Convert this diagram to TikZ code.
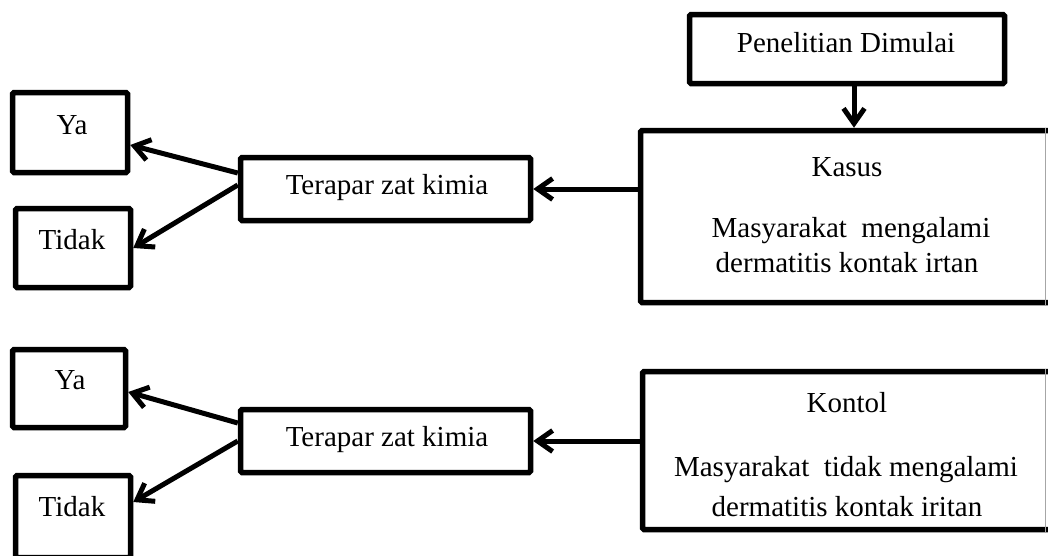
\documentclass[tikz,border=0pt]{standalone}
\usepackage{fontspec}
\setmainfont{Liberation Serif}
\usetikzlibrary{arrows.meta}
\begin{document}
\begin{tikzpicture}[x=1pt,y=-1pt,
  box/.style 2 args={draw, line width=5.5pt, rounded corners=1.5pt, inner sep=0pt,
    minimum width=#1pt, minimum height=#2pt},
  lbl/.style={font=\fontsize{29}{33}\selectfont, inner sep=0pt},
  arr/.style={line width=5pt, -{Straight Barb[length=15pt,width=21pt]}}
]
\useasboundingbox (0,0) rectangle (1048,555);
\clip (0,0) rectangle (1048,555);
% boxes
\node[box={315}{69}] (pen) at (847,49) {};
\node[box={411}{172}] (kasus) at (846,216.5) {};
\node[box={409}{158}] (kontol) at (847,450.5) {};
\node[box={290}{63}] (ter1) at (385.5,189) {};
\node[box={290}{63}] (ter2) at (385.5,441) {};
\node[box={115}{80}] (ya1) at (70,132.5) {};
\node[box={115}{79}] (tidak1) at (73,248) {};
\node[box={113}{78}] (ya2) at (69,388.5) {};
\node[box={115}{82}] (tidak2) at (73,516.5) {};
% cropped right edges
\draw[gray!70, line width=0.8pt] (1045,128) -- (1045,305);
\draw[gray!70, line width=0.8pt] (1045,369) -- (1045,532);
% texts
\node[lbl] (tpen) at (846,43) {Penelitian Dimulai};
\node[lbl] (tkasus) at (847,167) {Kasus};
\node[lbl] (tkasus2) at (851,231) {Masyarakat\ \ mengalami};
\node[lbl] (tkasus3) at (847,263) {dermatitis kontak irtan};
\node[lbl] (tkontol) at (847,403) {Kontol};
\node[lbl] (tkontol2) at (846,470) {Masyarakat\ \ tidak mengalami};
\node[lbl] (tkontol3) at (847,507) {dermatitis kontak iritan};
\node[lbl] (tter1) at (387,188) {Terapar zat kimia};
\node[lbl] (tter2) at (387,440) {Terapar zat kimia};
\node[lbl] (tya1) at (72,125) {Ya};
\node[lbl] (ttidak1) at (72,240) {Tidak};
\node[lbl] (tya2) at (70,380) {Ya};
\node[lbl] (ttidak2) at (72,507) {Tidak};
% connectors
\draw[arr] ([xshift=7pt]pen.south) -- ([xshift=7pt]pen.south |- kasus.north);
\draw[arr] (ter1.east -| kasus.west) -- (ter1.east);
\draw[arr] (ter2.east -| kontol.west) -- (ter2.east);
\draw[arr] ([yshift=16pt]ter1.west) -- ([yshift=-12.5pt]ya1.east);
\draw[arr] ([yshift=4pt]ter1.west) -- (tidak1.east);
\draw[arr] ([yshift=18pt]ter2.west) -- ([yshift=-3.5pt]ya2.east);
\draw[arr] (ter2.west) -- ([yshift=14.5pt]tidak2.east);
\end{tikzpicture}
\end{document}
